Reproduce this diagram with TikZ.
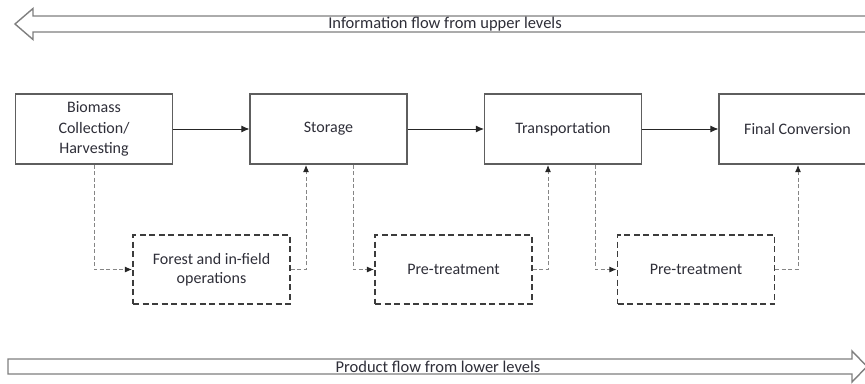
\documentclass[tikz,border=0pt]{standalone}
\usepackage{fontspec}
\setmainfont{Carlito}
\usetikzlibrary{arrows.meta}
\definecolor{boxline}{HTML}{5E5E5E}
\definecolor{dashline}{HTML}{3C3C3C}
\definecolor{connline}{HTML}{858585}
\definecolor{bigline}{HTML}{7F7F7F}
\definecolor{txt}{HTML}{2E2E38}
\tikzset{
  stage/.style={draw=boxline, line width=1.1pt, minimum width=157pt, minimum height=70pt,
    inner sep=0pt, align=center, text=txt, font=\fontsize{16}{20.5}\selectfont},
  substage/.style={draw=dashline, line width=1.1pt, dash pattern=on 6pt off 3.5pt,
    minimum width=157pt, minimum height=69pt, inner sep=0pt, align=center, text=txt,
    font=\fontsize{16}{19.5}\selectfont},
  flow/.style={draw=black!85, line width=0.9pt, -{Latex[length=8pt,width=7pt]}},
  sideflow/.style={draw=connline, line width=0.9pt, dash pattern=on 4pt off 2.5pt,
    -{Latex[length=7pt,width=6pt,color=black!85]}, shorten >=0.5pt},
  bigarrow/.style={draw=bigline, line width=1.4pt, fill=white, line join=miter},
  bandlabel/.style={text=txt, font=\fontsize{16.5}{18}\selectfont, inner sep=0pt}
}
\begin{document}
\begin{tikzpicture}[x=1pt, y=-1pt]
\useasboundingbox (0,0) rectangle (865,383);
\clip (0,0) rectangle (865,383);

% information band (top, pointing left)
\draw[bigarrow] (880,16) -- (33,16) -- (33,8.5) -- (15,24) -- (33,39.5) -- (33,32) -- (880,32) -- cycle;
\node[bandlabel] (info) at (445,24) {Information flow from upper levels};

% product band (bottom, pointing right)
\draw[bigarrow] (8,359) -- (852,359) -- (852,351) -- (867,366.5) -- (852,382) -- (852,374) -- (8,374) -- cycle;
\node[bandlabel] (prod) at (438,366.5) {Product flow from lower levels};

% main chain
\node[stage] (harv) at (94,129) {Biomass\\Collection/\\Harvesting};
\node[stage] (stor) at (328.5,129) {Storage};
\node[stage] (trans) at (563,129) {Transportation};
\node[stage] (conv) at (797.5,129) {Final Conversion};

% intermediate operations
\node[substage] (field) at (211.5,269.5) {Forest and in-field\\operations};
\node[substage] (pre1) at (453.5,269.5) {Pre-treatment};
\node[substage] (pre2) at (696,269.5) {Pre-treatment};

\draw[flow] (harv) -- (stor);
\draw[flow] (stor) -- (trans);
\draw[flow] (trans) -- (conv);

% side routes through the operations
\draw[sideflow] (harv.south) |- (field.west);
\draw[sideflow] (field.east) -| ([xshift=-22.5pt]stor.south);
\draw[sideflow] ([xshift=24.5pt]stor.south) |- (pre1.west);
\draw[sideflow] (pre1.east) -| ([xshift=-15pt]trans.south);
\draw[sideflow] ([xshift=32pt]trans.south) |- (pre2.west);
\draw[sideflow] (pre2.east) -| ([xshift=0.5pt]conv.south);
\end{tikzpicture}
\end{document}
